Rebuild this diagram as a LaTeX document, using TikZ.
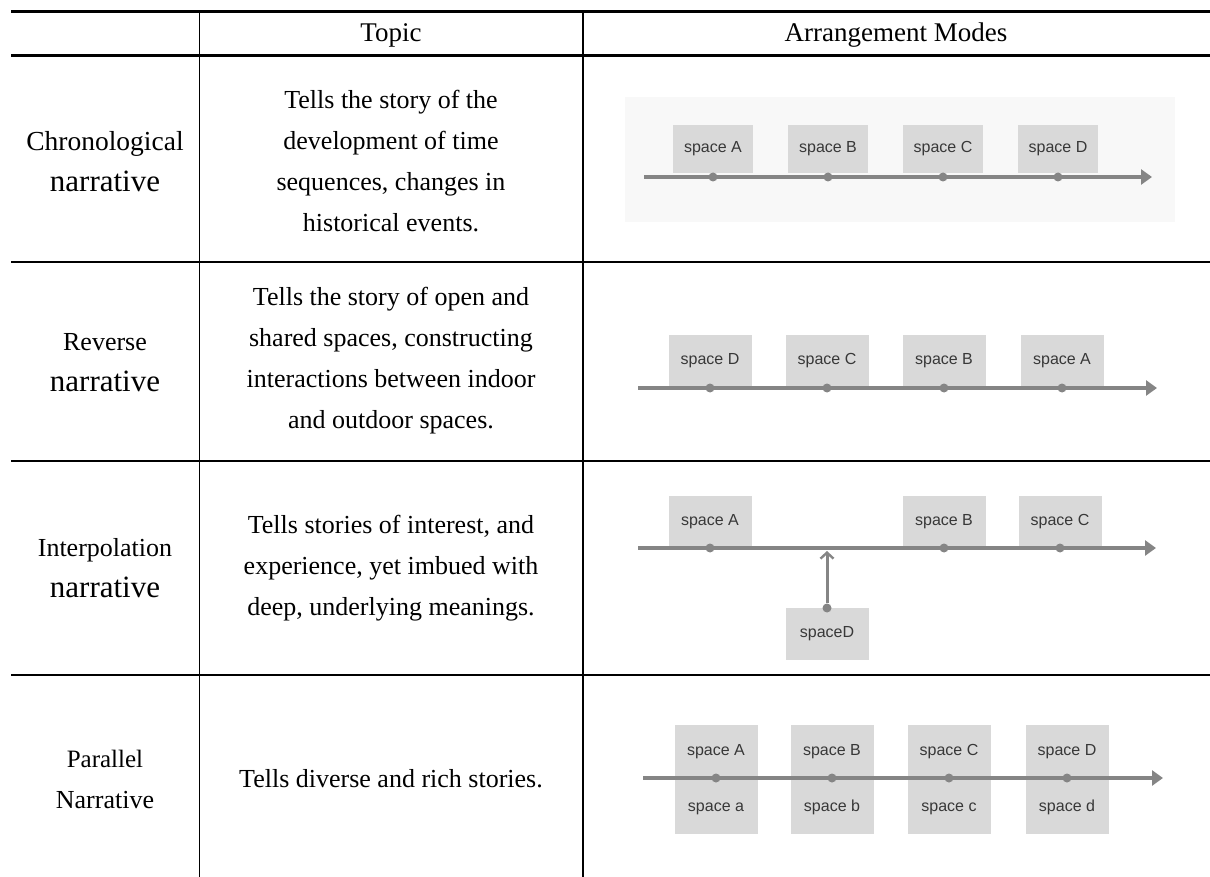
\documentclass[tikz,border=0pt]{standalone}
\usepackage{fontspec}
\setmainfont{Liberation Serif}
\newfontfamily\boxfont{Liberation Sans}
\usetikzlibrary{calc}
\usetikzlibrary{arrows.meta}
\definecolor{boxgrey}{HTML}{D9D9D9}
\definecolor{axisgrey}{HTML}{858585}
\definecolor{labelgrey}{HTML}{383838}
\definecolor{panelgrey}{HTML}{F8F8F8}

\begin{document}
\begin{tikzpicture}[x=1pt,y=-1pt,>=stealth,
  cell/.style={align=center,inner sep=0pt,font=\fontsize{26}{41}\selectfont},
  spacebox/.style={fill=boxgrey,align=center,minimum width=83,minimum height=50,inner sep=0pt,
    text=labelgrey,font=\boxfont\fontsize{16}{56}\selectfont},
  dot/.style={circle,fill=axisgrey,inner sep=0pt,minimum size=9},
  axis/.style={draw=axisgrey,line width=3.2,-{Triangle[length=11,width=15]}},
  riser/.style={draw=axisgrey,line width=3,-{Straight Barb[length=6,width=13,line width=2.4]}}]
\useasboundingbox (0,0) rectangle (1210,877);

% table rules
\draw[line width=3] (11,11.5) -- (1210,11.5);
\draw[line width=3] (11,55.5) -- (1210,55.5);
\foreach \y in {262,461,675} \draw[line width=1.3] (11,\y) -- (1210,\y);
\foreach \x in {199.5,583} \draw[line width=1.3] (\x,13) -- (\x,877);

% header
\node[cell,anchor=base,font=\fontsize{27}{41}\selectfont] (topichead) at (391,42) {Topic};
\node[cell,anchor=base,font=\fontsize{27}{41}\selectfont] (modehead) at (896,42) {Arrangement Modes};

% first column
\node[cell] (kind1) at (105,162) {\fontsize{27.5}{41}\selectfont Chronological\\{\fontsize{31}{41}\selectfont narrative}};
\node[cell] (kind2) at (105,363) {Reverse\\{\fontsize{31}{41}\selectfont narrative}};
\node[cell] (kind3) at (105,568) {Interpolation\\{\fontsize{31}{41}\selectfont narrative}};
\node[cell] (kind4) at (105,779) {\fontsize{25}{38}\selectfont Parallel\\Narrative};

% second column
\node[cell] (topic1) at (391,161) {Tells the story of the\\development of time\\sequences, changes in\\historical events.};
\node[cell] (topic2) at (391,361) {Tells the story of open and\\shared spaces, constructing\\interactions between indoor\\and outdoor spaces.};
\node[cell] (topic3) at (391,568) {Tells stories of interest, and\\experience, yet imbued with\\deep, underlying meanings.};
\node[cell] (topic4) at (391,779) {Tells diverse and rich stories.};

% chronological
\fill[panelgrey] (625,97) rectangle (1175,222);
\coordinate (r1start) at (644,177);
\coordinate (r1end) at (1152,177);
\foreach \x/\lab [count=\i] in {713/A,828/B,943/C,1058/D}
  \node[spacebox,minimum width=80,minimum height=48] (r1box\i) at (\x,149) {space \lab};
\draw[axis] (r1start) -- (r1end);
\foreach \x [count=\i] in {713,828,943,1058}
  \node[dot] (r1dot\i) at (\x,177) {};

% reverse
\coordinate (r2start) at (638,388);
\coordinate (r2end) at (1157,388);
\foreach \x/\lab [count=\i] in {710/D,827/C,944/B,1062/A}
  \node[spacebox,minimum height=52] (r2box\i) at (\x,361) {space \lab};
\draw[axis] (r2start) -- (r2end);
\foreach \x [count=\i] in {710,827,944,1062}
  \node[dot] (r2dot\i) at (\x,388) {};

% interpolation
\coordinate (r3start) at (638,548);
\coordinate (r3end) at (1156,548);
\foreach \x/\lab [count=\i] in {710/A,944/B,1060/C}
  \node[spacebox,minimum height=52] (r3box\i) at (\x,521.5) {space \lab};
\node[spacebox,minimum height=52] (r3boxD) at (827,634) {spaceD};
\draw[axis] (r3start) -- (r3end);
\foreach \x [count=\i] in {710,944,1060}
  \node[dot] (r3dot\i) at (\x,548) {};
\node[dot] (r3dotD) at (827,608) {};
\coordinate (r3hit) at (827,551);
\draw[riser] (r3dotD) -- (r3hit);

% parallel
\coordinate (r4start) at (643,778);
\coordinate (r4end) at (1163,778);
\foreach \x/\up/\low [count=\i] in {716/A/a,832/B/b,949/C/c,1067/D/d}
  \node[spacebox,minimum height=109] (r4box\i) at (\x,779.5) {space \up\\space \low};
\draw[axis] (r4start) -- (r4end);
\foreach \x [count=\i] in {716,832,949,1067}
  \node[dot] (r4dot\i) at (\x,778) {};
\end{tikzpicture}
\end{document}
